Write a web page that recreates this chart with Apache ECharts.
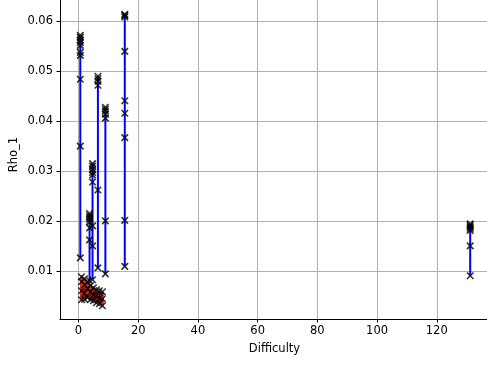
<!DOCTYPE html>
<html>
<head>
<meta charset="utf-8">
<script src="https://cdn.jsdelivr.net/npm/echarts@6/dist/echarts.min.js"></script>
<style>
html,body{margin:0;padding:0;background:#fff;}
#chart{width:487px;height:367px;}
</style>
</head>
<body>
<div id="chart"></div>
<script>
// Blue groups: difficulty and Rho_1 values per difficulty
const blueDifficulty = [0.6, 3.7, 4.7, 6.5, 9.0, 15.5, 131.2];
const blueRho = [
  [0.0572, 0.0568, 0.0563, 0.0558, 0.0552, 0.0538, 0.0532, 0.0484, 0.0350, 0.0126],
  [0.0215, 0.0211, 0.0207, 0.0203, 0.0198, 0.0186, 0.0162, 0.0080],
  [0.0315, 0.0310, 0.0303, 0.0297, 0.0292, 0.0278, 0.0190, 0.0150, 0.0082],
  [0.0490, 0.0485, 0.0480, 0.0472, 0.0262, 0.0106],
  [0.0428, 0.0424, 0.0420, 0.0414, 0.0406, 0.0200, 0.0094],
  [0.0614, 0.0612, 0.0609, 0.0540, 0.0441, 0.0416, 0.0367, 0.0201, 0.0109],
  [0.0194, 0.0191, 0.0188, 0.0185, 0.0181, 0.0150, 0.0090]
];
// Red groups
const redDifficulty = [1, 2, 3, 4, 5, 6, 7, 8];
const redRho = [
  [0.0088, 0.0078, 0.0060, 0.0042],
  [0.0084, 0.0072, 0.0055, 0.0043],
  [0.0078, 0.0065, 0.0046],
  [0.0070, 0.0057, 0.0042],
  [0.0066, 0.0052, 0.0040],
  [0.0062, 0.0050, 0.0036],
  [0.0060, 0.0046, 0.0034],
  [0.0058, 0.0044, 0.0030]
];
const xTicks = [0, 20, 40, 60, 80, 100, 120];
const yTicks = [0.01, 0.02, 0.03, 0.04, 0.05, 0.06];
const xLabel = 'Difficulty';
const yLabel = 'Rho_1';

const FONT = 'DejaVu Sans';
const xSymbol = 'path://M0,0 L10,10 M10,0 L0,10';

function groupSeries(xs, ys, color, lw) {
  const out = [];
  xs.forEach((x, i) => {
    const vals = ys[i];
    out.push({
      type: 'line',
      data: [[x, Math.min(...vals)], [x, Math.max(...vals)]],
      showSymbol: false,
      symbol: 'none',
      lineStyle: {color: color, width: lw},
      silent: true,
      z: 3
    });
    out.push({
      type: 'scatter',
      data: vals.map(v => [x, v]),
      symbol: xSymbol,
      symbolSize: 6.5,
      itemStyle: {color: 'none', borderColor: '#000', borderWidth: 1.6},
      silent: true,
      z: 3
    });
  });
  return out;
}

const chart = echarts.init(document.getElementById('chart'), null, {renderer: 'canvas'});
chart.setOption({
  animation: false,
  backgroundColor: '#fff',
  grid: {left: 60, right: -2, top: -10, bottom: 48, containLabel: false, outerBoundsMode: 'none'},
  xAxis: {
    type: 'value',
    min: -6.2,
    max: 137.5,
    minInterval: 20,
    maxInterval: 20,
    name: xLabel,
    nameLocation: 'middle',
    nameGap: 24,
    nameMoveOverlap: false,
    nameTextStyle: {fontFamily: FONT, fontSize: 11.5, color: '#000'},
    axisLine: {show: true, onZero: false, lineStyle: {color: '#000', width: 1}},
    axisTick: {show: true, length: 3.5, lineStyle: {color: '#000', width: 1}},
    axisLabel: {
      fontFamily: FONT, fontSize: 11.5, color: '#000', margin: 6,
      showMinLabel: false, showMaxLabel: false,
      formatter: v => xTicks.includes(v) ? String(v) : ''
    },
    splitLine: {show: true, lineStyle: {color: '#b0b0b0', width: 1}}
  },
  yAxis: {
    type: 'value',
    min: 0.00034,
    max: 0.0663,
    minInterval: 0.01,
    maxInterval: 0.01,
    name: yLabel,
    nameLocation: 'middle',
    nameGap: 40,
    nameMoveOverlap: false,
    nameTextStyle: {fontFamily: FONT, fontSize: 11.5, color: '#000'},
    axisLine: {show: true, onZero: false, lineStyle: {color: '#000', width: 1}},
    axisTick: {show: true, length: 3.5, lineStyle: {color: '#000', width: 1}},
    axisLabel: {
      fontFamily: FONT, fontSize: 11.5, color: '#000', margin: 7,
      showMinLabel: false, showMaxLabel: false,
      formatter: v => {
        const t = yTicks.find(t => Math.abs(t - v) < 1e-9);
        return t !== undefined ? t.toFixed(2) : '';
      }
    },
    splitLine: {show: true, lineStyle: {color: '#b0b0b0', width: 1}}
  },
  series: groupSeries(blueDifficulty, blueRho, '#0000ff', 2)
    .concat(groupSeries(redDifficulty, redRho, '#e8281a', 3))
});
</script>
</body>
</html>
